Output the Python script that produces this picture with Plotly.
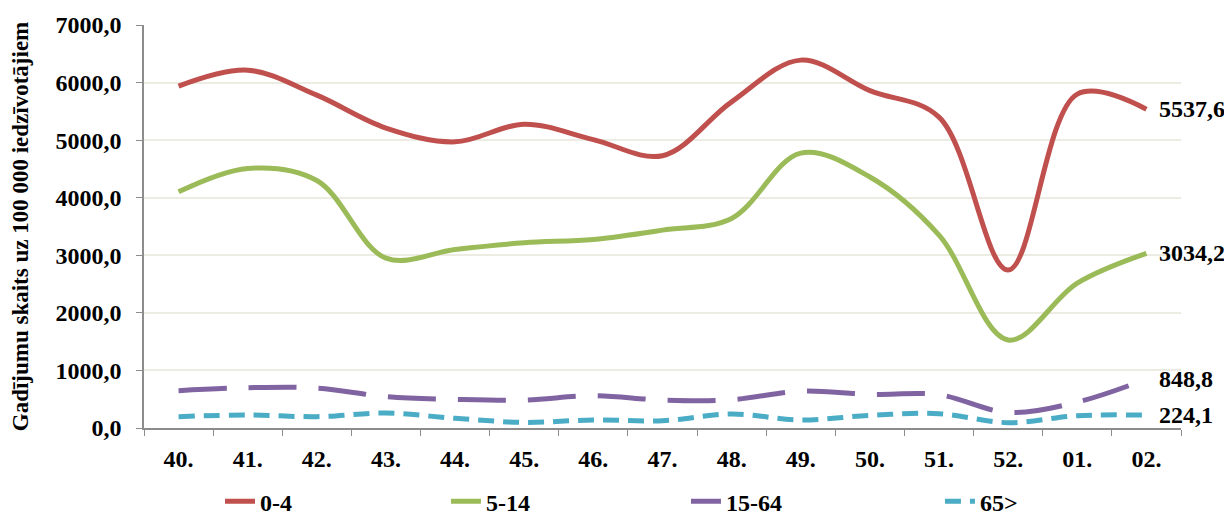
import plotly.graph_objects as go

weeks = ["40.", "41.", "42.", "43.", "44.", "45.", "46.", "47.", "48.", "49.",
         "50.", "51.", "52.", "01.", "02."]
age_0_4 = [5937, 6215, 5781, 5210, 4970, 5278, 5010, 4730, 5665, 6390,
           5860, 5400, 2743, 5800, 5537.6]
age_5_14 = [4102, 4508, 4300, 2950, 3102, 3217, 3276, 3437, 3640, 4775,
            4360, 3350, 1528, 2517, 3034.2]
age_15_64 = [648, 700, 694, 544, 498, 486, 561, 486, 491, 640,
             585, 578, 270, 450, 848.8]
age_65 = [197, 226, 197, 260, 168, 98, 139, 127, 243, 139,
          220, 249, 93, 214, 224.1]

series_names = ["0-4", "5-14", "15-64", "65>"]
series_values = [age_0_4, age_5_14, age_15_64, age_65]
series_colors = ["#C0504D", "#9BBB59", "#8064A2", "#4BACC6"]
series_dash = ["solid", "solid", "48px,22px", "16px,9px"]

y_tickvals = [0, 1000, 2000, 3000, 4000, 5000, 6000, 7000]
y_ticktext = [f"{v:.1f}".replace(".", ",") for v in y_tickvals]
y_title = "Gadījumu skaits uz 100 000 iedzīvotājiem"

FONT = "Liberation Serif, Times New Roman, serif"

fig = go.Figure()
legend_ids = ["legend", "legend2", "legend3", "legend4"]
for name, vals, col, dash, lg in zip(series_names, series_values, series_colors, series_dash, legend_ids):
    fig.add_trace(go.Scatter(
        x=weeks, y=vals, name=name, mode="lines",
        line=dict(color=col, width=5, dash=dash, shape="spline", smoothing=1),
        legend=lg, cliponaxis=False,
    ))
    fig.add_annotation(
        x=len(weeks) - 1, y=vals[-1], xref="x", yref="y",
        text=f"{vals[-1]:.1f}".replace(".", ","),
        showarrow=False, xanchor="left", yanchor="middle", xshift=11,
        font=dict(family=FONT, size=24, color="black", weight="bold"),
    )

legend_x = [0.1732, 0.3578, 0.5539, 0.7614]
leg_common = dict(orientation="h", xref="container", yref="container",
                  yanchor="middle", y=0.032, xanchor="left",
                  font=dict(family=FONT, size=24, color="black", weight="bold"),
                  bgcolor="rgba(0,0,0,0)")
fig.update_layout(
    legend=dict(x=legend_x[0], **leg_common),
    legend2=dict(x=legend_x[1], **leg_common),
    legend3=dict(x=legend_x[2], **leg_common),
    legend4=dict(x=legend_x[3], **leg_common),
)

fig.update_layout(
    width=1224, height=510,
    margin=dict(l=136, r=51, t=17, b=90, autoexpand=False),
    paper_bgcolor="white", plot_bgcolor="white",
    showlegend=True,
    font=dict(family=FONT, size=24, color="black", weight="bold"),
    xaxis=dict(
        type="category", range=[-0.5, 14.5], automargin=False,
        showline=True, linecolor="#8C8C8C", linewidth=1.5,
        ticks="outside", tickson="boundaries", ticklen=6, tickcolor="#8C8C8C",
        showgrid=False, ticklabelstandoff=8,
        tickfont=dict(family=FONT, size=24, color="black", weight="bold"),
    ),
    yaxis=dict(
        range=[0, 7000], tickvals=y_tickvals, ticktext=y_ticktext, automargin=False,
        showline=True, linecolor="#8C8C8C", linewidth=1.5,
        ticks="outside", ticklen=6, tickcolor="#8C8C8C",
        showgrid=True, gridcolor="#ECECE2", gridwidth=1.5,
        zeroline=False, ticklabelstandoff=10,
        tickfont=dict(family=FONT, size=24, color="black", weight="bold"),
        title=dict(text=y_title, standoff=27,
                   font=dict(family=FONT, size=23, color="black", weight="bold")),
    ),
)

fig.write_html("out.html")
